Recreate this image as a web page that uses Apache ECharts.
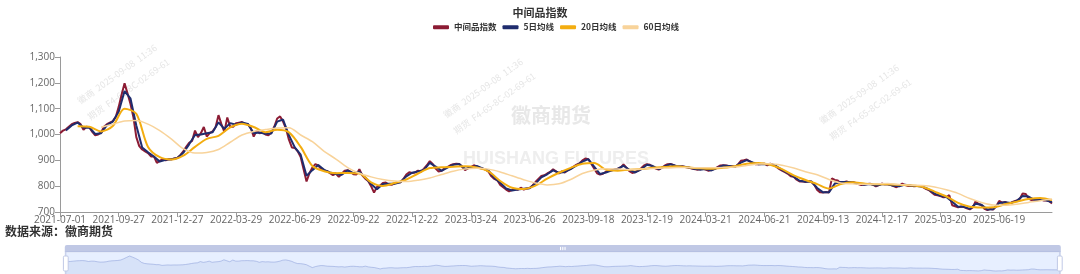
<!DOCTYPE html>
<html><head><meta charset="utf-8">
<script src="https://cdn.jsdelivr.net/npm/echarts@6/dist/echarts.min.js"></script>
<style>html,body{margin:0;padding:0;background:#fff}#c{width:1080px;height:274px}</style>
</head><body><div id="c"></div>
<script>
const TITLE = '中间品指数';
const SERIES_NAMES = ['中间品指数', '5日均线', '20日均线', '60日均线'];
const SOURCE_TEXT = '数据来源：徽商期货';
const WATERMARK_CN = '徽商期货';
const WATERMARK_EN = 'HUISHANG FUTURES';
const STAMP_LINE1 = '徽商  2025-09-08  11:36';
const STAMP_LINE2 = '期货  F4-65-8C-02-69-61';

// trading calendar (weekdays minus exchange holidays)
const START_DATE = '2021-07-01';
const END_DATE = '2025-09-03';
const HOLIDAYS = [
  '2021-09-20','2021-09-21','2021-10-01','2021-10-04','2021-10-05','2021-10-06','2021-10-07',
  '2022-01-03','2022-01-31','2022-02-01','2022-02-02','2022-02-03','2022-02-04','2022-04-04','2022-04-05',
  '2022-05-02','2022-05-03','2022-05-04','2022-06-03','2022-09-12','2022-10-03','2022-10-04','2022-10-05','2022-10-06','2022-10-07',
  '2023-01-02','2023-01-23','2023-01-24','2023-01-25','2023-01-26','2023-01-27','2023-04-05','2023-05-01','2023-05-02','2023-05-03',
  '2023-06-22','2023-06-23','2023-09-29','2023-10-02','2023-10-03','2023-10-04','2023-10-05','2023-10-06',
  '2024-01-01','2024-02-09','2024-02-12','2024-02-13','2024-02-14','2024-02-15','2024-02-16','2024-04-04','2024-04-05',
  '2024-05-01','2024-05-02','2024-05-03','2024-06-10','2024-09-16','2024-09-17','2024-10-01','2024-10-02','2024-10-03','2024-10-04','2024-10-07',
  '2025-01-01','2025-01-28','2025-01-29','2025-01-30','2025-01-31','2025-02-03','2025-02-04','2025-04-04','2025-05-01','2025-05-02','2025-05-05','2025-06-02'
];

// index sampled every 3 trading days from the first day
const INDEX_STEP = 3, INDEX_FIRST = 0;
const indexValues = [
  1005,1015,1020,1030,1040,1045,1048,1040,1018,1030,
  1028,1010,997,1000,1008,1030,1040,1046,1052,1068,
  1107,1155,1198,1160,1119,1068,990,955,942,935,
  928,915,915,890,898,905,900,905,904,907,
  910,920,935,952,968,975,1015,990,1005,1029,
  992,1005,1012,1028,1075,1040,1010,1066,1030,1030,
  1044,1046,1048,1042,1040,1025,992,1014,1005,1008,
  1000,997,1008,1030,1062,1070,1050,1023,980,950,
  948,935,913,865,818,
  850,872,885,880,866,861,858,850,843,849,
  836,848,860,862,855,846,845,866,842,829,
  820,800,775,797,802,812,814,806,805,811,
  816,815,828,845,854,851,853,860,856,868,
  881,897,886,868,857,860,869,874,881,885,
  887,886,875,862,869,874,881,876,870,868,
  864,856,838,828,823,805,796,787,780,785,
  789,786,794,787,791,793,803,816,828,839,
  842,849,855,865,
  857,849,858,853,862,868,876,883,888,900,
  907,904,887,868,850,845,848,856,860,862,
  865,868,872,884,872,858,851,855,860,869,
  880,885,883,875,868,864,871,879,885,886,
  882,876,874,877,874,872,869,866,864,865,
  868,864,859,863,867,874,880,881,880,877,
  877,874,884,898,900,903,896,889,885,885,
  886,887,881,887,883,875,867,860,854,848,
  838,836,825,818,819,816,
  820,817,805,785,776,775,777,775,830,824,
  822,811,815,818,814,816,812,808,804,806,
  808,809,806,799,804,810,807,807,805,800,
  796,802,810,804,801,802,800,801,801,796,
  790,785,776,767,765,762,757,758,765,726,
  722,718,721,719,714,710,718,742,731,726,
  712,707,712,710,722,743,736,739,733,736,
  741,745,750,772,770,753,746,747,748,747,
  745,745,743,733
];

const MA5_STEP = 6, MA5_FIRST = 6;
const ma5Values = [
  1016,1035,1046,1026,1027,1002,1005,1036,1050,1088,
  1168,1140,1035,950,931,915,895,902,904,909,
  929,962,998,1000,1005,1009,1047,1022,1044,1038,
  1047,1041,1005,1008,1003,1004,1050,1058,997,950,
  922,840,
  862,882,863,853,847,844,861,850,856,834,
  808,788,808,809,809,815,838,852,857,863,
  890,876,859,872,883,886,867,872,878,869,
  860,832,813,791,783,787,790,792,810,834,
  846,861,
  852,855,866,880,895,905,876,847,853,861,
  867,879,863,853,865,883,878,866,876,885,
  878,876,873,867,864,866,861,871,880,878,
  875,891,901,892,885,886,885,878,863,851,
  837,821,817,
  818,793,776,776,810,816,816,815,810,805,
  808,802,807,807,802,800,806,802,801,798,
  787,771,763,758,740,720,720,712,732,728,
  710,711,735,738,735,743,762,760,747,747,
  745,738
];

const MA20_STEP = 12, MA20_FIRST = 18;
const ma20Values = [
  1032,1030,1012,1033,1100,1080,952,912,903,918,
  952,983,995,1028,1042,1029,1009,1018,1008,952,
  878,858,850,851,849,815,801,812,826,849,
  870,873,875,877,872,857,820,794,789,802,
  829,852,871,887,890,864,860,864,866,871,
  874,877,873,869,867,871,877,887,890,883,
  866,842,824,808,791,808,815,810,807,807,
  805,803,797,779,760,735,720,717,718,730,
  740,750,754,746
];

const MA60_STEP = 12, MA60_FIRST = 42;
const ma60Values = [
  1028,1040,1052,1054,1040,1015,982,945,928,930,
  942,970,998,1012,1019,1025,1026,998,972,935,
  905,872,850,836,826,820,818,823,832,845,
  858,866,869,866,855,840,825,812,805,809,
  826,849,862,867,866,864,866,868,870,872,
  872,871,871,872,874,880,886,887,881,870,
  856,844,826,812,809,807,808,810,806,804,
  803,797,786,772,752,737,727,726,730,737,
  744,750
];

const Y_MIN = 700, Y_MAX = 1300, Y_INTERVAL = 100;
const LABEL_EVERY = 60;

function buildDates() {
  const hol = new Set(HOLIDAYS);
  const out = [];
  const d = new Date(START_DATE + 'T00:00:00Z');
  const end = new Date(END_DATE + 'T00:00:00Z');
  while (d <= end) {
    const wd = d.getUTCDay();
    const s = d.toISOString().slice(0, 10);
    if (wd !== 0 && wd !== 6 && !hol.has(s)) out.push(s);
    d.setUTCDate(d.getUTCDate() + 1);
  }
  return out;
}
const dates = buildDates();
function pairs(values, first, step) {
  return values.map((v, k) => [dates[first + k * step], v]);
}

function stamp(x, y) {
  return [
    {type: 'text', x: x, y: y, rotation: 0.62, z: 0, silent: true,
     style: {text: STAMP_LINE1, font: '9px "Noto Sans CJK SC"', fill: '#e6e6e6'}},
    {type: 'text', x: x + 10, y: y + 16, rotation: 0.62, z: 0, silent: true,
     style: {text: STAMP_LINE2, font: '9px "Noto Sans CJK SC"', fill: '#e6e6e6'}}
  ];
}

const COLORS = ['#8c1c34', '#1f2c6e', '#f3ad10', '#f8d39a'];
const chart = echarts.init(document.getElementById('c'), null, {renderer: 'canvas'});
chart.setOption({
  animation: false,
  backgroundColor: '#fff',
  color: COLORS,
  title: {
    text: TITLE, left: 'center', top: 2,
    textStyle: {fontSize: 11, fontWeight: 'bold', color: '#333', fontFamily: 'Noto Sans CJK SC'}
  },
  legend: {
    top: 18, left: 428, icon: 'roundRect', itemWidth: 16, itemHeight: 4, itemGap: 6,
    data: SERIES_NAMES,
    textStyle: {fontSize: 8.5, fontWeight: 'bold', color: '#333', fontFamily: 'Noto Sans CJK SC'}
  },
  grid: {left: 60, right: 28, top: 57, bottom: 62, containLabel: false},
  xAxis: {
    type: 'category', data: dates, boundaryGap: false,
    axisLine: {lineStyle: {color: '#9a9a9a'}},
    axisTick: {interval: LABEL_EVERY - 1, lineStyle: {color: '#9a9a9a'}},
    axisLabel: {interval: LABEL_EVERY - 1, color: '#666', fontSize: 10, margin: 3, fontFamily: 'Open Sans'},
    splitLine: {show: false}
  },
  yAxis: {
    type: 'value', min: Y_MIN, max: Y_MAX, interval: Y_INTERVAL,
    axisLine: {show: true, lineStyle: {color: '#9a9a9a'}},
    axisTick: {show: true, lineStyle: {color: '#9a9a9a'}},
    axisLabel: {color: '#666', fontSize: 10, margin: 5, fontFamily: 'Open Sans'},
    splitLine: {show: false}
  },
  dataZoom: [{
    type: 'slider', xAxisIndex: 0, start: 0, end: 100,
    left: 62, right: 22, bottom: 5, height: 24,
    showDetail: false
  }],
  graphic: [
    {type: 'text', left: 511, top: 105, z: 0, silent: true,
     style: {text: WATERMARK_CN, font: 'bold 20px "Noto Sans CJK SC"', fill: '#e8e8e8'}},
    {type: 'text', left: 463, top: 150, z: 0, silent: true,
     style: {text: WATERMARK_EN, font: 'bold 18px "Liberation Sans"', fill: '#eeeeee'}},
    ...stamp(76, 98),
    ...stamp(442, 112),
    ...stamp(818, 118),
    {type: 'text', left: 5, top: 225, z: 5,
     style: {text: SOURCE_TEXT, font: 'bold 12px "Noto Sans CJK SC"', fill: '#333'}}
  ],
  series: [
    {name: SERIES_NAMES[0], type: 'line', showSymbol: false, symbol: 'none', z: 2,
     lineStyle: {width: 2, color: COLORS[0]}, data: pairs(indexValues, INDEX_FIRST, INDEX_STEP)},
    {name: SERIES_NAMES[1], type: 'line', showSymbol: false, symbol: 'none', z: 3,
     lineStyle: {width: 2, color: COLORS[1]}, data: pairs(ma5Values, MA5_FIRST, MA5_STEP)},
    {name: SERIES_NAMES[2], type: 'line', showSymbol: false, symbol: 'none', z: 4, smooth: 0.3,
     lineStyle: {width: 2, color: COLORS[2]}, data: pairs(ma20Values, MA20_FIRST, MA20_STEP)},
    {name: SERIES_NAMES[3], type: 'line', showSymbol: false, symbol: 'none', z: 5, smooth: 0.3,
     lineStyle: {width: 1.5, color: COLORS[3]}, data: pairs(ma60Values, MA60_FIRST, MA60_STEP)}
  ]
});
</script></body></html>
